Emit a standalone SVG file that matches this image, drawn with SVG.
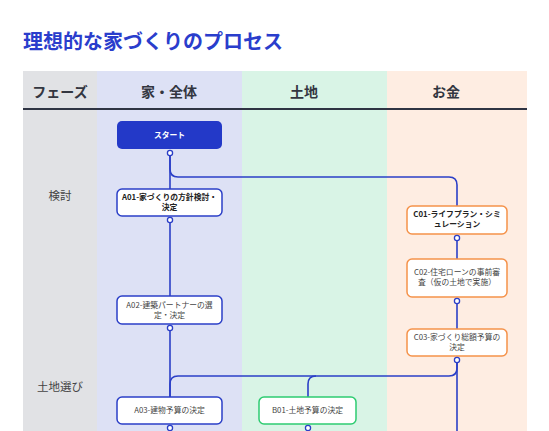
<svg xmlns="http://www.w3.org/2000/svg" width="549" height="431" viewBox="0 0 549 431">
<style>
text{font-family:"Noto Sans CJK JP","Noto Sans",sans-serif;}
.title{font-size:20px;font-weight:700;fill:#2a3dcc;}
.hdr{font-size:14px;font-weight:700;fill:#333640;text-anchor:middle;}
.phase{font-size:11.5px;fill:#444;text-anchor:middle;}
.nt{font-size:7.8px;fill:#444;text-anchor:middle;}
.b{font-weight:700;fill:#222;}
.na{fill:#fff;stroke:#2b3fc7;stroke-width:1.5;}
.nb{fill:#fff;stroke:#2ecc71;stroke-width:1.5;}
.nc{fill:#fff;stroke:#f5924a;stroke-width:1.5;}
.port{fill:#fff;stroke:#2b3fc7;stroke-width:1.3;}
.conn{fill:none;stroke:#2b3fc7;stroke-width:1.6;}
</style>
<rect width="549" height="431" fill="#fff"/>
<text class="title" x="23" y="49">理想的な家づくりのプロセス</text>
<g id="lanes">
<rect x="23" y="71" width="74" height="360" fill="#e1e2e5"/>
<rect x="97" y="71" width="145" height="360" fill="#dde1f5"/>
<rect x="242" y="71" width="145" height="360" fill="#d9f4e6"/>
<rect x="387" y="71" width="140" height="360" fill="#feede2"/>
<line x1="23" y1="109" x2="527" y2="109" stroke="#2f3443" stroke-width="2"/>
<text class="hdr" x="60" y="97">フェーズ</text>
<text class="hdr" x="169" y="97">家・全体</text>
<text class="hdr" x="304" y="97">土地</text>
<text class="hdr" x="446" y="97">お金</text>
<text class="phase" x="60" y="200">検討</text>
<text class="phase" x="60" y="391">土地選び</text>
</g>
<g id="connectors">
<path class="conn" d="M170,153 V189"/>
<path class="conn" d="M170,153 V169 Q170,177 178,177 H449 Q457,177 457,185 V206"/>
<path class="conn" d="M170,220 V296"/>
<path class="conn" d="M170,328 V397"/>
<path class="conn" d="M457,238 V259"/>
<path class="conn" d="M457,301 V329"/>
<path class="conn" d="M457,360 V431"/>
<path class="conn" d="M457,360 V368 Q457,376 449,376 H178 Q170,376 170,384 V397"/>
<path class="conn" d="M316,376 Q308,376 308,384 V397"/>
</g>
<g id="start">
<rect x="117" y="121" width="105" height="28" rx="5" fill="#2339c8"/>
<text class="nt" x="169.5" y="137.5" style="fill:#fff;font-weight:700">スタート</text>
<circle class="port" cx="170" cy="153" r="2.6"/>
</g>
<g id="A01">
<rect class="na" x="117" y="189" width="105" height="27" rx="5"/>
<text class="nt b" x="169.5" y="200">A01-家づくりの方針検討・</text>
<text class="nt b" x="169.5" y="209.8">決定</text>
<circle class="port" cx="170" cy="220" r="2.6"/>
</g>
<g id="A02">
<rect class="na" x="117" y="296" width="105" height="28" rx="5"/>
<text class="nt" x="169.5" y="308">A02-建築パートナーの選</text>
<text class="nt" x="169.5" y="317.8">定・決定</text>
<circle class="port" cx="170" cy="328" r="2.6"/>
</g>
<g id="A03">
<rect class="na" x="117" y="397" width="105" height="27" rx="5"/>
<text class="nt" x="169.5" y="413">A03-建物予算の決定</text>
<circle class="port" cx="170" cy="428" r="2.6"/>
</g>
<g id="B01">
<rect class="nb" x="259" y="397" width="97" height="27" rx="5"/>
<text class="nt" x="307.5" y="413">B01-土地予算の決定</text>
<circle class="port" cx="308" cy="428" r="2.6"/>
</g>
<g id="C01">
<rect class="nc" x="407" y="206" width="100" height="28" rx="5"/>
<text class="nt b" x="457" y="217.2">C01-ライフプラン・シミ</text>
<text class="nt b" x="457" y="227">ュレーション</text>
<circle class="port" cx="457" cy="238" r="2.6"/>
</g>
<g id="C02">
<rect class="nc" x="407" y="259" width="100" height="38" rx="5"/>
<text class="nt" x="457" y="275">C02-住宅ローンの事前審</text>
<text class="nt" x="457" y="284.8">査（仮の土地で実施）</text>
<circle class="port" cx="457" cy="301" r="2.6"/>
</g>
<g id="C03">
<rect class="nc" x="407" y="329" width="100" height="27" rx="5"/>
<text class="nt" x="457" y="339.8">C03-家づくり総額予算の</text>
<text class="nt" x="457" y="349.6">決定</text>
<circle class="port" cx="457" cy="360" r="2.6"/>
</g>
</svg>
